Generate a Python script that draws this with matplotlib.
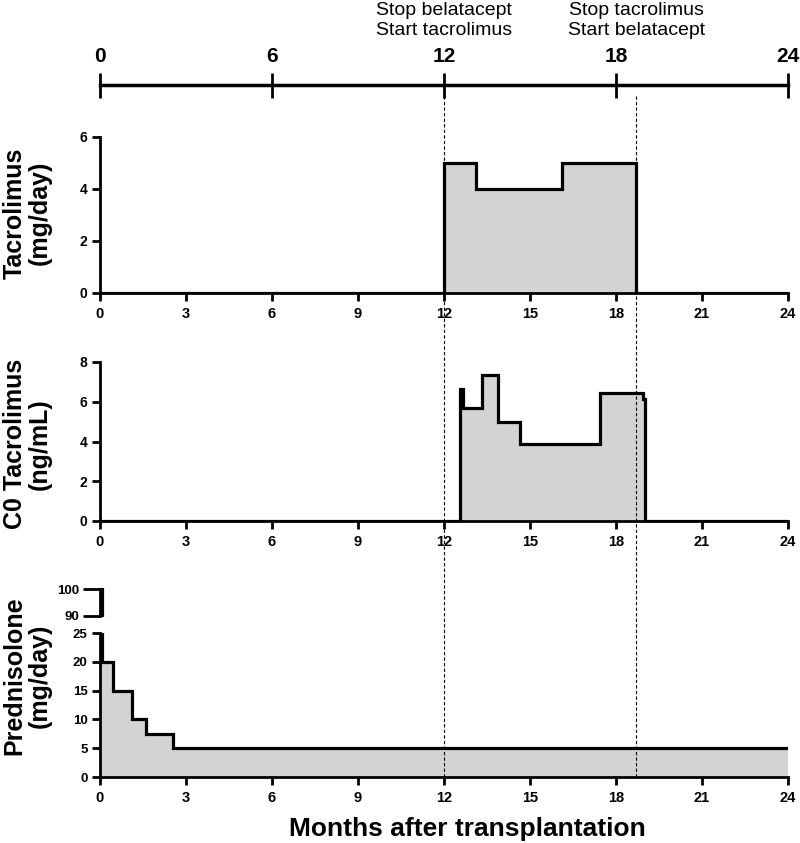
import matplotlib
matplotlib.use('Agg')
import matplotlib.pyplot as plt

plt.rcParams['font.family'] = ['Liberation Sans', 'DejaVu Sans']
plt.rcParams['font.weight'] = 'bold'

# dados (meses apos o transplante)
meses_ticks = list(range(0, 25, 3))
linha_tempo_ticks = [0, 6, 12, 18, 24]
eventos_x = [12, 18.7]
eventos_txt = ['Stop belatacept\nStart tacrolimus', 'Stop tacrolimus\nStart belatacept']

tac_bordas = [0, 12, 13.1, 16.1, 18.7, 24]
tac_valores = [0, 5, 4, 5, 0]

c0_bordas = [0, 12.57, 12.66, 13.32, 13.9, 14.65, 17.45, 18.95, 19.02, 24]
c0_valores = [0, 6.65, 5.7, 7.33, 5.0, 3.87, 6.42, 6.15, 0]

pred_bordas = [0, 0.08, 0.46, 1.12, 1.59, 2.54, 24]
pred_valores = [100, 20, 15, 10, 7.5, 5]

CINZA = '#d3d3d3'
LW_EIXO = 2.0
LW_DADO = 2.3

fig = plt.figure(figsize=(8, 8.43), dpi=100)


def caixa(l, t, r, b):
    return [l / 800, 1 - b / 843, (r - l) / 800, (b - t) / 843]


def estilo(ax):
    ax.spines[['top', 'right']].set_visible(False)
    for s in ['left', 'bottom']:
        ax.spines[s].set_linewidth(LW_EIXO)
    ax.tick_params(direction='out', length=6, width=LW_EIXO, pad=3)
    ax.tick_params(axis='x', labelsize=10.5, pad=4)
    ax.tick_params(axis='y', labelsize=10)
    ax.set_xlim(0, 24)
    ax.set_xticks(meses_ticks)


# ---------- linha do tempo ----------
ax_lt = fig.add_axes(caixa(100, 85, 788, 86))
for s in ['bottom', 'left', 'right']:
    ax_lt.spines[s].set_visible(False)
ax_lt.spines['top'].set_linewidth(2.5)
ax_lt.set_xlim(0, 24)
ax_lt.set_yticks([])
ax_lt.xaxis.tick_top()
ax_lt.set_xticks(linha_tempo_ticks)
ax_lt.tick_params(axis='x', direction='inout', length=18, width=2, labelsize=15, pad=5)
ax_lt.patch.set_visible(False)

# ---------- Tacrolimus ----------
ax_t = fig.add_axes(caixa(100, 137, 788, 293))
ax_t.stairs(tac_valores, tac_bordas, fill=True, color=CINZA, zorder=1)
ax_t.stairs(tac_valores, tac_bordas, color='k', lw=LW_DADO, zorder=3)
ax_t.set_ylim(0, 6)
ax_t.set_yticks([0, 2, 4, 6])
estilo(ax_t)

# ---------- C0 Tacrolimus ----------
ax_c = fig.add_axes(caixa(100, 362, 788, 521))
ax_c.stairs(c0_valores, c0_bordas, fill=True, color=CINZA, zorder=1)
ax_c.stairs(c0_valores, c0_bordas, color='k', lw=LW_DADO, zorder=3)
ax_c.set_ylim(0, 8)
ax_c.set_yticks([0, 2, 4, 6, 8])
estilo(ax_c)

# ---------- Prednisolone (eixo quebrado) ----------
ax_pt = fig.add_axes(caixa(100, 588.4, 788, 616.6))
ax_pt.stairs(pred_valores, pred_bordas, baseline=None, color='k', lw=LW_DADO, zorder=3)
ax_pt.set_ylim(89.6, 100.4)
ax_pt.set_yticks([90, 100])
estilo(ax_pt)
ax_pt.tick_params(axis='y', length=12, labelsize=9.5)
ax_pt.spines['bottom'].set_visible(False)
ax_pt.spines['left'].set_bounds(90, 100)
ax_pt.set_xticks([])
ax_pt.patch.set_visible(False)

ax_p = fig.add_axes(caixa(100, 633, 788, 777))
ax_p.stairs(pred_valores, pred_bordas, fill=True, color=CINZA, zorder=1)
ax_p.stairs(pred_valores, pred_bordas, baseline=None, color='k', lw=LW_DADO, zorder=3)
ax_p.set_ylim(0, 25)
ax_p.set_yticks([0, 5, 10, 15, 20, 25])
estilo(ax_p)
ax_p.tick_params(axis='y', labelsize=9.5)

fig.text(467 / 800, 1 - 829 / 843, 'Months after transplantation',
         ha='center', va='center', fontsize=19)

# rotulos do eixo y
for yc, txt in [(213, 'Tacrolimus\n(mg/day)'),
                (444, 'C0 Tacrolimus\n(ng/mL)'),
                (676, 'Prednisolone\n(mg/day)')]:
    fig.text(27 / 800, 1 - yc / 843, txt, rotation=90, ha='center', va='center',
             fontsize=18, linespacing=1.05, multialignment='center')

# linhas tracejadas dos eventos
ax_ov = fig.add_axes(caixa(100, 96, 788, 777))
ax_ov.axis('off')
ax_ov.set_xlim(0, 24)
ax_ov.set_ylim(0, 1)
y_txt = (777 - 20.5) / (777 - 96)
for xe, txt in zip(eventos_x, eventos_txt):
    ax_ov.axvline(xe, color='k', lw=0.8, linestyle=(0, (3, 2)))
    ax_ov.text(xe, y_txt, txt, transform=ax_ov.get_xaxis_transform(),
               ha='center', va='center', fontsize=14, fontweight='normal',
               linespacing=1.2)

fig.savefig('out.png', dpi=100)
